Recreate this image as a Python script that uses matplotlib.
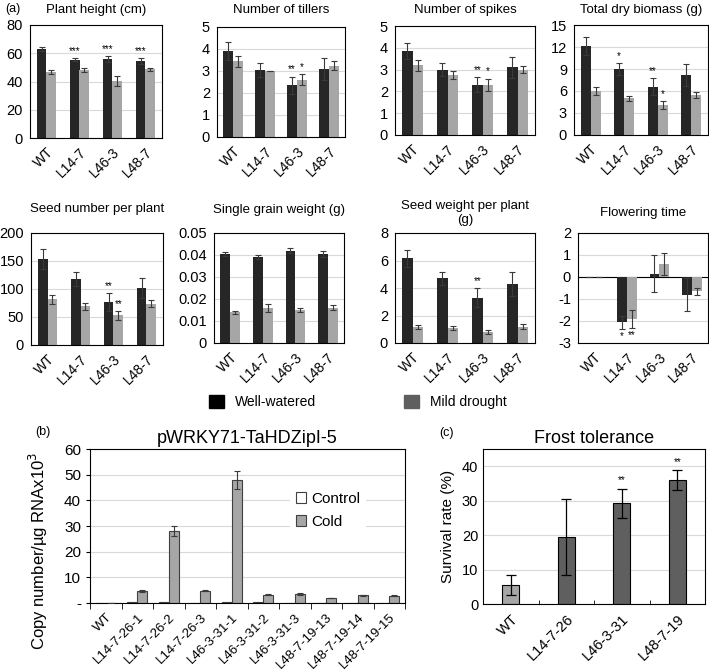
import numpy as np
import matplotlib
matplotlib.use('Agg')
import matplotlib.pyplot as plt
from matplotlib.patches import Patch
from matplotlib.ticker import FormatStrFormatter

plt.rcParams['font.family'] = ['Liberation Sans', 'DejaVu Sans']

W, H = 709, 672

#lines used in panel (a)
lines = ['WT', 'L14-7', 'L46-3', 'L48-7']

#plant height (cm)
height_ww = [63, 55.5, 56, 54.5]
height_ww_err = [1.5, 1.0, 2.0, 2.2]
height_md = [46.5, 48, 40.5, 48.5]
height_md_err = [1.3, 1.3, 3.6, 1.3]
height_stars_ww = ['', '***', '***', '***']
height_stars_md = ['', '', '', '']

#number of tillers
tillers_ww = [3.9, 3.05, 2.35, 3.1]
tillers_ww_err = [0.4, 0.3, 0.4, 0.5]
tillers_md = [3.45, 3.0, 2.6, 3.25]
tillers_md_err = [0.25, 0.0, 0.25, 0.2]
tillers_stars_ww = ['', '', '**', '']
tillers_stars_md = ['', '', '*', '']

#number of spikes
spikes_ww = [3.85, 3.0, 2.3, 3.1]
spikes_ww_err = [0.35, 0.3, 0.35, 0.5]
spikes_md = [3.2, 2.75, 2.3, 3.0]
spikes_md_err = [0.25, 0.18, 0.28, 0.15]
spikes_stars_ww = ['', '', '**', '']
spikes_stars_md = ['', '', '*', '']

#total dry biomass (g)
biomass_ww = [12.1, 9.0, 6.6, 8.2]
biomass_ww_err = [1.2, 0.8, 1.2, 1.5]
biomass_md = [6.0, 5.0, 4.1, 5.4]
biomass_md_err = [0.6, 0.3, 0.5, 0.4]
biomass_stars_ww = ['', '*', '**', '']
biomass_stars_md = ['', '', '*', '']

#seed number per plant
seednum_ww = [153, 118, 77, 102]
seednum_ww_err = [18, 12, 16, 18]
seednum_md = [82, 69, 53, 74]
seednum_md_err = [8, 6, 8, 6]
seednum_stars_ww = ['', '', '**', '']
seednum_stars_md = ['', '', '**', '']

#single grain weight (g)
grain_ww = [0.0405, 0.039, 0.042, 0.0405]
grain_ww_err = [0.001, 0.001, 0.0012, 0.0015]
grain_md = [0.014, 0.016, 0.015, 0.016]
grain_md_err = [0.0006, 0.0018, 0.0009, 0.0011]
grain_stars_ww = ['', '', '', '']
grain_stars_md = ['', '', '', '']

#seed weight per plant (g)
seedwt_ww = [6.15, 4.7, 3.3, 4.3]
seedwt_ww_err = [0.65, 0.45, 0.7, 0.85]
seedwt_md = [1.15, 1.1, 0.8, 1.2]
seedwt_md_err = [0.15, 0.15, 0.12, 0.15]
seedwt_stars_ww = ['', '', '**', '']
seedwt_stars_md = ['', '', '', '']

#flowering time
flower_ww = [0, -2.05, 0.15, -0.8]
flower_ww_err = [0, 0.3, 0.85, 0.75]
flower_md = [0, -1.9, 0.6, -0.65]
flower_md_err = [0, 0.4, 0.5, 0.15]
flower_stars_ww = ['', '*', '', '']
flower_stars_md = ['', '**', '', '']

#panel (b) pWRKY71-TaHDZipI-5 copy number
b_lines = ['WT', 'L14-7-26-1', 'L14-7-26-2', 'L14-7-26-3', 'L46-3-31-1',
           'L46-3-31-2', 'L46-3-31-3', 'L48-7-19-13', 'L48-7-19-14', 'L48-7-19-15']
b_control = [0, 0.2, 0.3, 0.1, 0.2, 0.5, 0.1, 0.1, 0.1, 0.1]
b_cold = [0, 4.8, 28, 4.8, 48, 3.3, 3.5, 2.0, 3.0, 2.8]
b_cold_err = [0, 0.4, 2.0, 0.3, 3.5, 0.2, 0.3, 0.1, 0.2, 0.2]

#panel (c) frost tolerance
c_lines = ['WT', 'L14-7-26', 'L46-3-31', 'L48-7-19']
c_survival = [5.5, 19.5, 29.2, 36]
c_survival_err = [2.8, 11, 4.2, 2.8]
c_stars = ['', '', '**', '**']

ww_col = '#262626'
md_col = '#a6a6a6'
grid_col = '#d9d9d9'
err_col = '#3a3a3a'


def px_axes(fig, x0, y0, x1, y1):
    #axes placed by pixel box of the reference picture
    return fig.add_axes([x0 / W, 1 - y1 / H, (x1 - x0) / W, (y1 - y0) / H])


fig = plt.figure(figsize=(W / 100, H / 100), dpi=100)

#title, axes box (px), title centre y (px), y range
panels = [
    ('Plant height (cm)', (30, 25, 162, 138), 10, (0, 80, 20),
     height_ww, height_ww_err, height_md, height_md_err, height_stars_ww, height_stars_md),
    ('Number of tillers', (217, 27, 345, 137), 10, (0, 5, 1),
     tillers_ww, tillers_ww_err, tillers_md, tillers_md_err, tillers_stars_ww, tillers_stars_md),
    ('Number of spikes', (395, 26, 535, 135), 10, (0, 5, 1),
     spikes_ww, spikes_ww_err, spikes_md, spikes_md_err, spikes_stars_ww, spikes_stars_md),
    ('Total dry biomass (g)', (574, 25, 708, 135), 10, (0, 15, 3),
     biomass_ww, biomass_ww_err, biomass_md, biomass_md_err, biomass_stars_ww, biomass_stars_md),
    ('Seed number per plant', (31, 233, 163, 345), 209, (0, 200, 50),
     seednum_ww, seednum_ww_err, seednum_md, seednum_md_err, seednum_stars_ww, seednum_stars_md),
    ('Single grain weight (g)', (214, 233, 344, 343), 210, (0, 0.05, 0.01),
     grain_ww, grain_ww_err, grain_md, grain_md_err, grain_stars_ww, grain_stars_md),
    ('Seed weight per plant\n(g)', (395, 233, 535, 343), 213, (0, 8, 2),
     seedwt_ww, seedwt_ww_err, seedwt_md, seedwt_md_err, seedwt_stars_ww, seedwt_stars_md),
    ('Flowering time', (578, 233, 708, 343), 213, (-3, 2, 1),
     flower_ww, flower_ww_err, flower_md, flower_md_err, flower_stars_ww, flower_stars_md),
]

x = np.arange(len(lines))
bw = 0.3
for title, box, ty, (lo, hi, step), ww, ww_e, md, md_e, s_ww, s_md in panels:
    ax = px_axes(fig, *box)
    ax.bar(x - bw / 2, ww, bw, color=ww_col, zorder=2)
    ax.bar(x + bw / 2, md, bw, color=md_col, zorder=2)
    ax.errorbar(x - bw / 2, ww, yerr=ww_e, fmt='none', ecolor=err_col,
                elinewidth=0.8, capsize=2.5, capthick=0.8, zorder=3)
    ax.errorbar(x + bw / 2, md, yerr=md_e, fmt='none', ecolor=err_col,
                elinewidth=0.8, capsize=2.5, capthick=0.8, zorder=3)
    off = (hi - lo) * 0.02
    for i in range(len(lines)):
        for xx, v, e, s in [(x[i] - bw / 2, ww[i], ww_e[i], s_ww[i]),
                            (x[i] + bw / 2, md[i], md_e[i], s_md[i])]:
            if not s:
                continue
            if v < 0:
                ax.text(xx, v - e - off, s, ha='center', va='top', fontsize=7)
            else:
                ax.text(xx, v + e + off, s, ha='center', va='bottom', fontsize=7)
    ax.set_xlim(-0.5, len(lines) - 0.5)
    ax.set_ylim(lo, hi)
    ax.set_yticks(np.arange(lo, hi + step / 2, step))
    ax.yaxis.set_major_formatter(FormatStrFormatter('%g'))
    ax.set_xticks(x)
    ax.set_xticklabels(lines, rotation=45, ha='right', rotation_mode='anchor')
    ax.tick_params(axis='y', length=0, labelsize=10.5, pad=5)
    ax.tick_params(axis='x', length=0, labelsize=10, pad=5)
    ax.grid(axis='y', color=grid_col, lw=0.8, zorder=0)
    ax.set_axisbelow(True)
    if lo < 0:
        ax.axhline(0, color='black', lw=0.8, zorder=1)
    for sp in ax.spines.values():
        sp.set_linewidth(0.8)
    ty_frac = 1 + (box[1] - ty) / (box[3] - box[1])
    ax.set_title(title, fontsize=9.5, y=ty_frac, va='center', pad=0)

fig.text(5 / W, 1 - 9 / H, '(a)', fontsize=9, va='center')

#legend for panel (a)
fig.legend(handles=[Patch(color='black')], labels=['Well-watered'],
           loc='center left', bbox_to_anchor=(203 / W, 1 - 402 / H), frameon=False,
           fontsize=10, handlelength=1.1, handleheight=1.1, borderaxespad=0)
fig.legend(handles=[Patch(color='#5f5f5f')], labels=['Mild drought'],
           loc='center left', bbox_to_anchor=(398 / W, 1 - 402 / H), frameon=False,
           fontsize=10, handlelength=1.1, handleheight=1.1, borderaxespad=0)

#panel (b)
axb = px_axes(fig, 90, 449, 405, 603)
xb = np.arange(len(b_lines))
bwb = 0.32
axb.bar(xb - bwb / 2, b_control, bwb, color='white', edgecolor='#404040',
        lw=0.8, label='Control', zorder=2)
axb.bar(xb + bwb / 2, b_cold, bwb, color=md_col, edgecolor='#404040',
        lw=0.8, label='Cold', zorder=2)
axb.errorbar(xb + bwb / 2, b_cold, yerr=b_cold_err, fmt='none', ecolor=err_col,
             elinewidth=0.8, capsize=2.5, capthick=0.8, zorder=3)
axb.set_xlim(-0.5, len(b_lines) - 0.5)
axb.set_ylim(0, 60)
axb.set_yticks(np.arange(0, 61, 10))
axb.set_yticklabels(['-'] + [str(v) for v in range(10, 61, 10)])
axb.set_xticks(xb)
axb.set_xticklabels(b_lines, rotation=45, ha='right', rotation_mode='anchor')
axb.set_xticks(np.arange(-0.5, len(b_lines)), minor=True)
axb.tick_params(axis='x', which='major', length=0, labelsize=9.5, pad=6)
axb.tick_params(axis='x', which='minor', length=4, direction='out')
axb.tick_params(axis='y', length=3, labelsize=11)
axb.grid(axis='y', color=grid_col, lw=0.8, zorder=0)
axb.set_axisbelow(True)
axb.set_ylabel('Copy number/µg RNAx10$^3$', fontsize=12)
axb.yaxis.set_label_coords(-0.127, 0.34)
axb.set_title('pWRKY71-TaHDZipI-5', fontsize=13, pad=4)
leg = axb.legend(loc='center', bbox_to_anchor=(0.755, 0.6), fontsize=11,
                 handlelength=0.7, handleheight=0.7, handletextpad=0.3,
                 labelspacing=0.6, framealpha=1, edgecolor='none', fancybox=False)
fig.text(35 / W, 1 - 432 / H, '(b)', fontsize=9, va='center')

#panel (c)
axc = px_axes(fig, 483, 449, 705, 604)
xc = np.arange(len(c_lines))
c_cols = ['#a6a6a6'] + ['#5f5f5f'] * (len(c_lines) - 1)
axc.bar(xc, c_survival, 0.3, color=c_cols, edgecolor='black', lw=0.8, zorder=2)
axc.errorbar(xc, c_survival, yerr=c_survival_err, fmt='none', ecolor='black',
             elinewidth=0.9, capsize=3.5, capthick=0.9, zorder=3)
for i, s in enumerate(c_stars):
    if s:
        axc.text(xc[i], c_survival[i] + c_survival_err[i] + 1, s,
                 ha='center', va='bottom', fontsize=7)
axc.set_xlim(-0.5, len(c_lines) - 0.5)
axc.set_ylim(0, 45)
axc.set_yticks(np.arange(0, 41, 10))
axc.set_xticks(xc)
axc.set_xticklabels(c_lines, rotation=45, ha='right', rotation_mode='anchor')
axc.set_xticks(np.arange(0.5, len(c_lines) - 1), minor=True)
axc.tick_params(axis='x', which='major', length=0, labelsize=10.5, pad=6)
axc.tick_params(axis='x', which='minor', length=3, direction='in')
axc.tick_params(axis='y', length=0, labelsize=10.5)
axc.grid(axis='y', color=grid_col, lw=0.8, zorder=0)
axc.set_axisbelow(True)
axc.set_ylabel('Survival rate (%)', fontsize=11, labelpad=5)
axc.set_title('Frost tolerance', fontsize=13, pad=4)
fig.text(447 / W, 1 - 433 / H, '(c)', fontsize=9, va='center', ha='center')

fig.savefig('out.png', dpi=100)
